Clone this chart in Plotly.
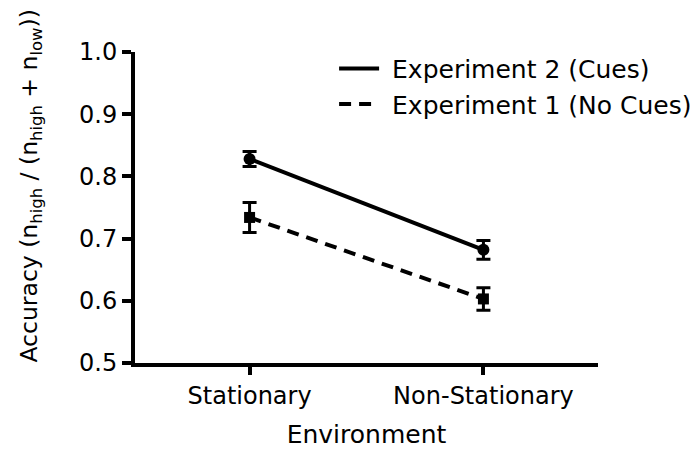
import plotly.graph_objects as go

categories = ["Stationary", "Non-Stationary"]
exp2_label = "Experiment 2 (Cues)"
exp1_label = "Experiment 1 (No Cues)"
exp2_mean = [0.828, 0.682]
exp2_err = [0.012, 0.015]
exp1_mean = [0.734, 0.603]
exp1_err = [0.024, 0.018]
y_ticks = [0.5, 0.6, 0.7, 0.8, 0.9, 1.0]
y_title = "Accuracy (n<sub>high</sub> / (n<sub>high</sub> + n<sub>low</sub>))"

xpos = list(range(len(categories)))
FONT = "DejaVu Sans, Verdana, sans-serif"

fig = go.Figure()
# lines shown in legend
fig.add_trace(go.Scatter(x=xpos, y=exp2_mean, mode="lines", name=" " + exp2_label,
                         line=dict(color="black", width=4)))
fig.add_trace(go.Scatter(x=xpos, y=exp1_mean, mode="lines", name=" " + exp1_label,
                         line=dict(color="black", width=4, dash="12px,8px")))
# markers + error bars
fig.add_trace(go.Scatter(x=xpos, y=exp2_mean, mode="markers", showlegend=False,
                         marker=dict(symbol="circle", size=12, color="black"),
                         error_y=dict(type="data", array=exp2_err, color="black",
                                      thickness=3, width=7)))
fig.add_trace(go.Scatter(x=xpos, y=exp1_mean, mode="markers", showlegend=False,
                         marker=dict(symbol="square", size=11, color="black"),
                         error_y=dict(type="data", array=exp1_err, color="black",
                                      thickness=3, width=7)))

fig.update_layout(
    width=698, height=449,
    margin=dict(l=135, r=100, t=52, b=86, autoexpand=False),
    paper_bgcolor="white", plot_bgcolor="white",
    font=dict(family=FONT, size=22, color="black"),
    legend=dict(x=0.43, y=1.02, xanchor="left", yanchor="top",
                bgcolor="rgba(0,0,0,0)", font=dict(size=25),
                tracegroupgap=0, itemwidth=40),
    showlegend=True,
    annotations=[dict(text=y_title, textangle=-90, xref="paper", yref="paper",
                      x=-0.225, y=0.57, xanchor="center", yanchor="middle",
                      showarrow=False, font=dict(size=23.5))],
)
fig.update_xaxes(
    range=[-0.49, 1.49], tickvals=xpos, ticktext=categories,
    showline=True, linewidth=4, linecolor="black", showgrid=False, zeroline=False,
    ticks="outside", ticklen=8, tickwidth=4, tickcolor="black",
    tickfont=dict(size=24), automargin=False,
    title=dict(text="Environment", font=dict(size=25), standoff=18),
)
fig.update_yaxes(
    range=[0.5, 1.0], tickvals=y_ticks, ticktext=[f"{v:.1f}" for v in y_ticks],
    showline=True, linewidth=4, linecolor="black", showgrid=False, zeroline=False,
    ticks="outside", ticklen=9, tickwidth=4, tickcolor="black",
    tickfont=dict(size=24), automargin=False,
)

fig.write_html("out.html")
